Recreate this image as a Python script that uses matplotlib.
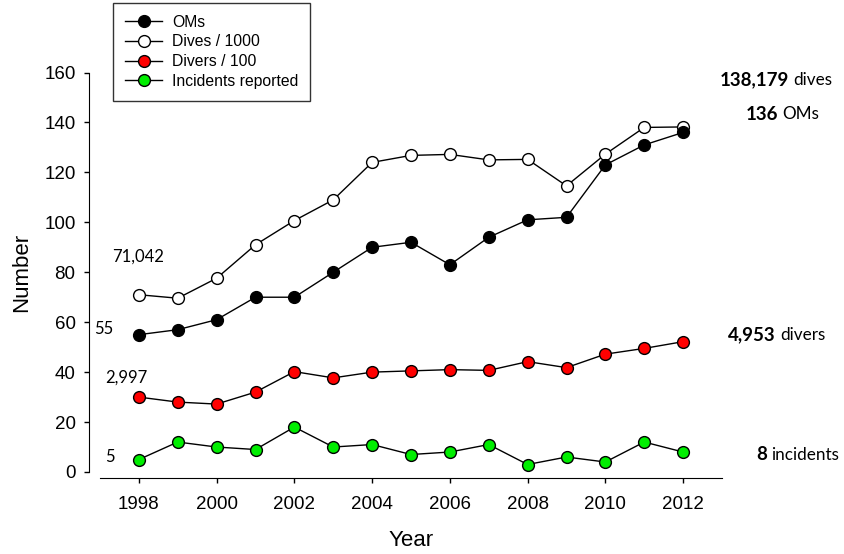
import matplotlib
matplotlib.use('Agg')
import matplotlib.pyplot as plt
import numpy as np

plt.rcParams['font.family'] = ['Liberation Sans', 'DejaVu Sans']

years = np.arange(1998, 2013)
oms = [55, 57, 61, 70, 70, 80, 90, 92, 83, 94, 101, 102, 123, 131, 136]
dives_k = [71.0, 69.6, 77.6, 91, 100.7, 109, 124, 126.8, 127.2, 125.0, 125.2, 114.6, 127.3, 138.0, 138.2]
divers_h = [30.0, 28.0, 27.2, 32.0, 40.2, 37.7, 40.0, 40.5, 41.0, 40.7, 44.2, 41.8, 47.2, 49.5, 52.2]
incidents = [5, 12, 10, 9, 18, 10, 11, 7, 8, 11, 3, 6, 4, 12, 8]

W, H = 844, 554
fig = plt.figure(figsize=(W / 100, H / 100), dpi=100)
ax = fig.add_axes([100 / W, 1 - 472 / H, 622 / W, 399.5 / H])

style = dict(marker='o', markersize=8.5, markeredgecolor='black', markeredgewidth=1,
             color='black', linewidth=1, clip_on=False)
ax.plot(years, oms, markerfacecolor='black', label='OMs', zorder=3, **style)
ax.plot(years, dives_k, markerfacecolor='white', label='Dives / 1000', zorder=2, **style)
ax.plot(years, divers_h, markerfacecolor='#ff0000', label='Divers / 100', zorder=3, **style)
ax.plot(years, incidents, markerfacecolor='#00ee00', label='Incidents reported', zorder=3, **style)

ax.set_xlim(1997, 2013)
ax.set_ylim(0, 160)
ax.set_xticks(np.arange(1998, 2013, 2))
ax.set_yticks(np.arange(0, 161, 20))
ax.tick_params(axis='both', labelsize=13.5, direction='out', length=3.6, width=1)
ax.tick_params(axis='x', pad=10)
ax.tick_params(axis='y', pad=6)
ax.spines['top'].set_visible(False)
ax.spines['right'].set_visible(False)
ax.spines['left'].set_position(('outward', 8))
ax.spines['bottom'].set_position(('outward', 4))
ax.set_xlabel('Year', fontsize=16, labelpad=12)
ax.set_ylabel('Number', fontsize=16, labelpad=9)

leg = fig.legend(loc='upper left', bbox_to_anchor=(113 / W, 1 - 3 / H), bbox_transform=fig.transFigure,
                 borderaxespad=0, fontsize=11.3, frameon=True, fancybox=False, handlelength=2.4,
                 labelspacing=0.3, borderpad=0.75, handletextpad=0.6)
leg.get_frame().set_edgecolor('black')
leg.get_frame().set_linewidth(1)
for h in leg.legend_handles:
    h.set_markersize(8.5)

ann_font = ['Lato', 'DejaVu Sans']

def ftxt(x, y, s, size=12.3, **kw):
    fig.text(x / W, 1 - y / H, s, va='center', family=ann_font, fontsize=size, **kw)

# left start-value labels
ftxt(138, 257, '71,042', size=12, ha='center')
ftxt(104, 329, '55', size=12, ha='center')
ftxt(126, 378, '2,997', size=12, ha='center')
ftxt(110, 457, '5', size=12, ha='center')

# right end-value labels
for num, word, xw, yy in [('138,179', 'dives', 793, 80), ('136', 'OMs', 782, 114),
                          ('4,953', 'divers', 780, 335), ('8', 'incidents', 771, 455)]:
    ftxt(xw - 4, yy, num, size=13.5, ha='right', fontweight='bold')
    ftxt(xw, yy, word, ha='left')

fig.savefig('out.png', dpi=100)
